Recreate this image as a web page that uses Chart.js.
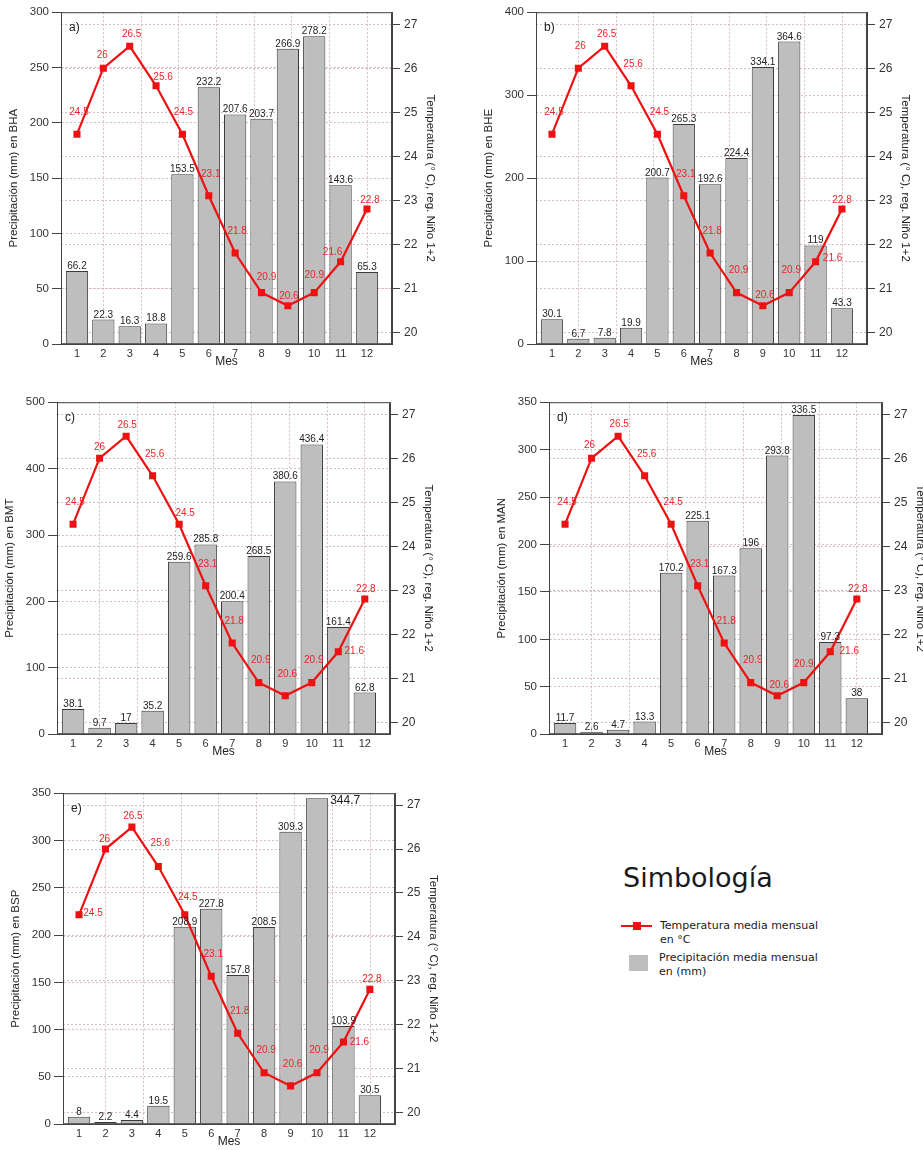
<!DOCTYPE html>
<html>
<head>
<meta charset="utf-8">
<script src="https://cdn.jsdelivr.net/npm/chart.js@4.4.1/dist/chart.umd.min.js"></script>
<style>
  body { margin:0; background:#fff; width:923px; height:1150px; position:relative; overflow:hidden; font-family:"Liberation Sans", Arial, sans-serif; }
  canvas { position:absolute; }
  .leg { position:absolute; font-family:"DejaVu Sans", sans-serif; color:#1a1a1a; }
</style>
</head>
<body>

<div class="leg" style="left:623px;top:862px;font-size:27px;">Simbología</div>
<div style="position:absolute;left:621px;top:925px;width:31px;height:2px;background:#ee1111;"></div>
<div style="position:absolute;left:633px;top:922px;width:8px;height:8px;background:#ee1111;"></div>
<div class="leg" style="left:660px;top:919px;font-size:11px;line-height:14px;">Temperatura media mensual<br>en °C</div>
<div style="position:absolute;left:629px;top:955px;width:19px;height:16px;background:#bebebe;"></div>
<div class="leg" style="left:659px;top:951px;font-size:11px;line-height:14px;">Precipitación media mensual<br>en (mm)</div>

<script>
// ===== datos =====
const meses = [1, 2, 3, 4, 5, 6, 7, 8, 9, 10, 11, 12];
const temperatura = [24.5, 26, 26.5, 25.6, 24.5, 23.1, 21.8, 20.9, 20.6, 20.9, 21.6, 22.8];
const tempTicks = [20, 21, 22, 23, 24, 25, 26, 27];

const precBHA = [66.2, 22.3, 16.3, 18.8, 153.5, 232.2, 207.6, 203.7, 266.9, 278.2, 143.6, 65.3];
const precBHE = [30.1, 6.7, 7.8, 19.9, 200.7, 265.3, 192.6, 224.4, 334.1, 364.6, 119, 43.3];
const precBMT = [38.1, 9.7, 17, 35.2, 259.6, 285.8, 200.4, 268.5, 380.6, 436.4, 161.4, 62.8];
const precMAN = [11.7, 2.6, 4.7, 13.3, 170.2, 225.1, 167.3, 196, 293.8, 336.5, 97.3, 38];
const precBSP = [8, 2.2, 4.4, 19.5, 208.9, 227.8, 157.8, 208.5, 309.3, 344.7, 103.9, 30.5];

// desplazamiento de las etiquetas de temperatura [dx, dy] respecto al marcador
const despA = [[2,-22],[-1,-13],[2,-12],[7,-9],[1,-22],[2,-22],[2,-22],[5,-15],[1,-10],[0,-17],[-8,-10],[3,-9]];
const despB = [[2,-22],[2,-22],[2,-12],[2,-22],[2,-22],[2,-22],[2,-22],[2,-22],[2,-11],[2,-22],[17,-4],[0,-9]];
const despC = [[2,-22],[0,-11],[1,-11],[2,-22],[6,-11],[2,-22],[2,-22],[2,-22],[2,-22],[2,-22],[16,-1],[1,-10]];
const despD = [[2,-22],[-2,-13],[1,-12],[2,-22],[2,-22],[2,-22],[2,-22],[2,-22],[2,-11],[0,-18],[19,-1],[1,-10]];
const despE = [[14,-2],[-1,-10],[1,-11],[2,-23],[3,-18],[2,-22],[2,-22],[2,-22],[2,-22],[2,-22],[16,0],[2,-10]];

const paneles = [
  { letra: 'a)', est: 'BHA', prec: precBHA, max: 300, paso: 50,  desp: despA, L: 61,  R: 392, T: 12,  B: 344 },
  { letra: 'b)', est: 'BHE', prec: precBHE, max: 400, paso: 100, desp: despB, L: 536, R: 867, T: 12,  B: 344 },
  { letra: 'c)', est: 'BMT', prec: precBMT, max: 500, paso: 100, desp: despC, L: 57,  R: 390, T: 402, B: 734 },
  { letra: 'd)', est: 'MAN', prec: precMAN, max: 350, paso: 50,  desp: despD, L: 549, R: 882, T: 402, B: 734 },
  { letra: 'e)', est: 'BSP', prec: precBSP, max: 350, paso: 50,  desp: despE, L: 63,  R: 395, T: 793, B: 1124, lateral: 9 }
];

const FUENTE = '"Liberation Sans", Arial, sans-serif';
const GRID = 'rgba(214,186,192,0.95)';
const EJE = '#444';

const extras = {
  id: 'extras',
  afterDatasetsDraw(chart) {
    const p = chart.options.plugins.extras;
    const ctx = chart.ctx, a = chart.chartArea;
    ctx.save();
    ctx.strokeStyle = EJE; ctx.lineWidth = 1;
    ctx.strokeRect(a.left + 0.5, a.top + 0.5, a.right - a.left - 1, a.bottom - a.top - 1);

    // valores de barras
    ctx.fillStyle = '#222';
    ctx.textBaseline = 'alphabetic';
    chart.getDatasetMeta(1).data.forEach((b, i) => {
      const v = String(p.prec[i]);
      if (p.lateral === i) {
        ctx.font = '12px ' + FUENTE; ctx.textAlign = 'left';
        ctx.textBaseline = 'middle';
        ctx.fillText(v, b.x + b.width / 2 + 2, b.y + 2);
        ctx.textBaseline = 'alphabetic';
      } else {
        ctx.font = '10px ' + FUENTE; ctx.textAlign = 'center';
        ctx.fillText(v, b.x, b.y - 2);
      }
    });

    // etiquetas de temperatura
    ctx.font = '10px ' + FUENTE;
    ctx.fillStyle = '#e8262a';
    ctx.textAlign = 'center'; ctx.textBaseline = 'middle';
    chart.getDatasetMeta(0).data.forEach((pt, i) => {
      const d = p.desp[i];
      ctx.fillText(String(temperatura[i]), pt.x + d[0], pt.y + d[1]);
    });

    // letra del panel
    ctx.font = '12px ' + FUENTE; ctx.fillStyle = '#222';
    ctx.textAlign = 'left'; ctx.textBaseline = 'middle';
    ctx.fillText(p.letra, a.left + 8, a.top + 15);
    ctx.restore();
  }
};

function crearPanel(p) {
  const cv = document.createElement('canvas');
  const W0 = 58 + (p.R - p.L) + 49 + 6;
  const H0 = 10 + (p.B - p.T) + 29;
  cv.width = W0; cv.height = H0;
  cv.style.left = (p.L - 58) + 'px';
  cv.style.top = (p.T - 10) + 'px';
  document.body.appendChild(cv);

  const chart = new Chart(cv, {
    type: 'bar',
    data: {
      datasets: [{
        type: 'line',
        data: temperatura.map((t, i) => ({ x: meses[i], y: t })),
        xAxisID: 'x', yAxisID: 'y1',
        borderColor: '#ee1111', backgroundColor: '#ee1111',
        borderWidth: 2.2, pointStyle: 'rect', pointRadius: 5,
        pointBackgroundColor: '#ee1111', pointBorderWidth: 0,
        tension: 0, order: 0
      }, {
        type: 'bar',
        data: p.prec.map((v, i) => ({ x: meses[i], y: v })),
        xAxisID: 'x', yAxisID: 'y',
        backgroundColor: '#bebebe', borderColor: '#3a3a3a', borderWidth: 1,
        categoryPercentage: 1, barPercentage: 0.845, order: 1
      }]
    },
    options: {
      responsive: false,
      maintainAspectRatio: false,
      animation: false,
      layout: { padding: { top: 10, right: 6, left: 0, bottom: 0 } },
      plugins: {
        legend: { display: false },
        tooltip: { enabled: false },
        extras: { prec: p.prec, desp: p.desp, letra: p.letra, lateral: p.lateral }
      },
      scales: {
        x: {
          type: 'linear', position: 'bottom', min: 0.394, max: 12.95, offset: false,
          afterBuildTicks: s => { s.ticks = meses.map(m => ({ value: m })); },
          afterFit: s => { s.height = 29; },
          grid: { display: false, drawTicks: false },
          border: { display: true, color: EJE, width: 1 },
          ticks: { padding: 3, color: '#333', font: { family: FUENTE, size: 11 } },
          title: { display: true, text: 'Mes', color: '#222', padding: { top: 0, bottom: 4 }, font: { family: FUENTE, size: 12 } }
        },
        x2: {
          type: 'linear', position: 'bottom', min: 0.394, max: 12.95,
          afterBuildTicks: s => { const t = []; for (let k = 1; k <= 7; k++) t.push({ value: 0.394 + k * 5 / 3 }); s.ticks = t; },
          afterFit: s => { s.height = 0; },
          ticks: { display: false },
          grid: { color: GRID, lineWidth: 1, drawTicks: false },
          border: { display: false, dash: [2, 2] }
        },
        y: {
          position: 'left', min: 0, max: p.max,
          afterFit: s => { s.width = 58; },
          ticks: { stepSize: p.paso, padding: 3, color: '#333', font: { family: FUENTE, size: 11.5 } },
          grid: { color: GRID, lineWidth: 1, tickLength: 9, tickColor: EJE },
          border: { display: true, color: EJE, width: 1, dash: [2, 2] },
          title: { display: true, text: 'Precipitación (mm) en ' + p.est, color: '#222', font: { family: FUENTE, size: 11.5 } }
        },
        y1: {
          position: 'right', min: 19.727, max: 27.273,
          afterBuildTicks: s => { s.ticks = tempTicks.map(v => ({ value: v })); },
          afterFit: s => { s.width = 49; },
          ticks: { padding: 4, color: '#333', font: { family: FUENTE, size: 12 } },
          grid: { color: GRID, lineWidth: 1, tickLength: 8, tickColor: EJE },
          border: { display: true, color: EJE, width: 1, dash: [2, 2] },
          title: { display: true, text: 'Temperatura (° C), reg. Niño 1+2', color: '#222', font: { family: FUENTE, size: 11.5 } }
        }
      }
    },
    plugins: [extras]
  });

  // ajustar para que el área de trazado caiga donde está en la figura
  let a = chart.chartArea;
  const dw = (p.R - p.L) - (a.right - a.left);
  const dh = (p.B - p.T) - (a.bottom - a.top);
  if (dw || dh) chart.resize(chart.width + dw, chart.height + dh);
  a = chart.chartArea;
  cv.style.left = (p.L - a.left) + 'px';
  cv.style.top = (p.T - a.top) + 'px';
}

paneles.forEach(crearPanel);
</script>
</body>
</html>
